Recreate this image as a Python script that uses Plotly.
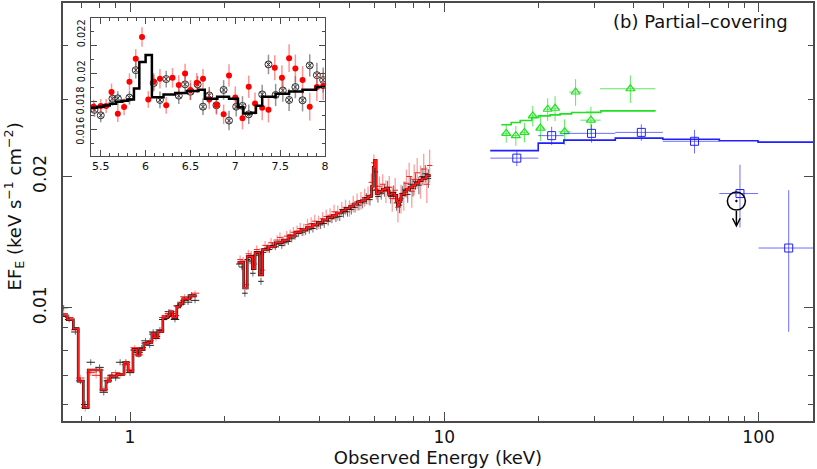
import plotly.graph_objects as go
import math

# ---- soft band (0.6-1.6 keV) ----
soft_edges = [0.609, 0.631, 0.660, 0.684, 0.710, 0.736, 0.809, 0.839, 0.864, 0.909, 0.957, 0.986,
              1.022, 1.052, 1.076, 1.107, 1.140, 1.174, 1.200, 1.227, 1.272, 1.320, 1.339, 1.368,
              1.409, 1.440, 1.472, 1.549, 1.630]
soft_model = [0.00959, 0.00939, 0.00896, 0.00679, 0.00590, 0.00720, 0.00648, 0.00679, 0.00697,
              0.00704, 0.00750, 0.00715, 0.00803, 0.00778, 0.00803, 0.00828, 0.00833, 0.00873,
              0.00855, 0.00882, 0.00949, 0.00959, 0.00979, 0.00949, 0.01005, 0.01021, 0.01048, 0.01065]
soft_e = [0.615, 0.64, 0.67, 0.695, 0.72, 0.75, 0.78, 0.80, 0.825, 0.85, 0.875, 0.90, 0.93, 0.97,
          1.00, 1.035, 1.065, 1.09, 1.12, 1.155, 1.185, 1.21, 1.245, 1.275, 1.30, 1.33, 1.35, 1.39,
          1.42, 1.455, 1.49, 1.53, 1.57, 1.61]
soft_black = [0.0100, 0.0094, 0.0088, 0.0068, 0.0060, 0.0075, 0.0072, 0.0073, 0.0064, 0.0068, 0.0070,
              0.0069, 0.0075, 0.0075, 0.0071, 0.0080, 0.0079, 0.0081, 0.0084, 0.0082, 0.0088, 0.0086,
              0.0089, 0.0094, 0.0095, 0.0098, 0.0097, 0.0094, 0.0101, 0.0102, 0.0104, 0.0103, 0.0107, 0.0104]
soft_red = [0.0097, 0.0095, 0.0089, 0.0069, 0.0059, 0.0071, 0.0070, 0.0072, 0.0065, 0.0069, 0.0070,
            0.0071, 0.0070, 0.0074, 0.0072, 0.0081, 0.0078, 0.0080, 0.0083, 0.0084, 0.0087, 0.0085,
            0.0088, 0.0095, 0.0096, 0.0097, 0.0098, 0.0096, 0.0101, 0.0103, 0.0106, 0.0105, 0.0106, 0.0108]
soft_err = [0.00015, 0.00014, 0.00013, 0.00012, 0.00012, 0.00012, 0.00012, 0.00012, 0.00011, 0.00011,
            0.00011, 0.00011, 0.00012, 0.00012, 0.00012, 0.00012, 0.00012, 0.00012, 0.00012, 0.00012,
            0.00013, 0.00013, 0.00013, 0.00014, 0.00014, 0.00014, 0.00014, 0.00014, 0.00015, 0.00015,
            0.00015, 0.00015, 0.00016, 0.00016]

# ---- hard band (2.2-9 keV) ----
hard_edges = [2.20, 2.30, 2.36, 2.45, 2.50, 2.58, 2.64, 2.75, 2.90, 3.05, 3.20, 3.35, 3.50, 3.65, 3.80,
              3.95, 4.10, 4.25, 4.40, 4.55, 4.70, 4.85, 5.00, 5.15, 5.30, 5.45, 5.60, 5.72, 5.87, 5.94,
              6.00, 6.07, 6.20, 6.35, 6.50, 6.65, 6.80, 6.95, 7.05, 7.10, 7.20, 7.28, 7.45, 7.60, 7.75,
              7.90, 8.10, 8.30, 8.50, 8.75, 9.05]
hard_model = [0.0127, 0.0111, 0.0131, 0.0123, 0.0134, 0.0119, 0.0136, 0.0138, 0.0141, 0.0143,
              0.0146, 0.0149, 0.0151, 0.0153, 0.0155, 0.0157, 0.0159, 0.0161, 0.0163, 0.0165,
              0.0167, 0.0169, 0.0171, 0.0173, 0.0175, 0.0176, 0.0178, 0.0180, 0.0190, 0.0210,
              0.0218, 0.0183, 0.0185, 0.0187, 0.0188, 0.0182, 0.0183, 0.0181, 0.0176, 0.0172,
              0.0175, 0.0182, 0.0185, 0.0187, 0.0189, 0.0191, 0.0193, 0.0196, 0.0198, 0.0201]
hard_e_black = [2.22, 2.27, 2.32, 2.36, 2.41, 2.46, 2.51, 2.56, 2.61, 2.66, 2.72, 2.78, 2.84, 2.90, 2.97,
                3.04, 3.11, 3.19, 3.27, 3.35, 3.44, 3.53, 3.62, 3.72, 3.82, 3.93, 4.04, 4.15, 4.27, 4.39,
                4.52, 4.65, 4.78, 4.92, 5.06, 5.20, 5.35, 5.50, 5.65, 5.80, 5.92, 6.03, 6.15, 6.30, 6.45,
                6.60, 6.75, 6.90, 7.05, 7.20, 7.35, 7.50, 7.65, 7.80, 7.95, 8.10, 8.30, 8.50, 8.70, 8.90]
hard_black = [0.0126, 0.0124, 0.0108, 0.0129, 0.0128, 0.0120, 0.0132, 0.0133, 0.0115, 0.0134, 0.0137,
              0.0136, 0.0139, 0.0138, 0.0140, 0.0139, 0.0141, 0.0142, 0.0144, 0.0146, 0.0148, 0.0149,
              0.0150, 0.0151, 0.0152, 0.0154, 0.0155, 0.0156, 0.0158, 0.0160, 0.0161, 0.0162, 0.0165,
              0.0166, 0.0168, 0.0170, 0.0172, 0.0174, 0.0178, 0.0177, 0.0186, 0.0205, 0.0180, 0.0183,
              0.0186, 0.0189, 0.0180, 0.0184, 0.0174, 0.0172, 0.0183, 0.0187, 0.0182, 0.0192, 0.0188,
              0.0195, 0.0191, 0.0200, 0.0203, 0.0198]
hard_err_black = [0.00020, 0.00020, 0.00020, 0.00021, 0.00021, 0.00021, 0.00022, 0.00022, 0.00022, 0.00023,
                  0.00023, 0.00023, 0.00024, 0.00024, 0.00025, 0.00025, 0.00026, 0.00026, 0.00027, 0.00027,
                  0.00028, 0.00029, 0.00030, 0.00031, 0.00032, 0.00033, 0.00034, 0.00035, 0.00036, 0.00037,
                  0.00038, 0.00039, 0.00040, 0.00042, 0.00044, 0.00046, 0.00048, 0.00050, 0.00052, 0.00054,
                  0.00056, 0.00058, 0.00058, 0.00060, 0.00062, 0.00064, 0.00066, 0.00068, 0.00070, 0.00072,
                  0.00074, 0.00076, 0.00078, 0.00080, 0.00082, 0.00085, 0.00088, 0.00090, 0.00094, 0.00098]
hard_e_red = [2.24, 2.29, 2.34, 2.38, 2.43, 2.48, 2.53, 2.59, 2.63, 2.69, 2.75, 2.81, 2.87, 2.94, 3.00,
              3.07, 3.15, 3.23, 3.31, 3.40, 3.48, 3.57, 3.67, 3.77, 3.87, 3.98, 4.10, 4.21, 4.33, 4.46,
              4.58, 4.72, 4.85, 4.99, 5.13, 5.28, 5.43, 5.58, 5.72, 5.86, 5.97, 6.08, 6.22, 6.37, 6.52,
              6.68, 6.83, 6.98, 7.12, 7.28, 7.43, 7.58, 7.73, 7.88, 8.02, 8.20, 8.40, 8.60, 8.80, 8.98]
hard_red = [0.0129, 0.0128, 0.0113, 0.0133, 0.0132, 0.0126, 0.0136, 0.0134, 0.0122, 0.0139, 0.0137,
            0.0141, 0.0140, 0.0143, 0.0145, 0.0142, 0.0146, 0.0147, 0.0149, 0.0150, 0.0152, 0.0151,
            0.0155, 0.0156, 0.0158, 0.0157, 0.0160, 0.0162, 0.0163, 0.0166, 0.0165, 0.0168, 0.0170,
            0.0169, 0.0173, 0.0175, 0.0176, 0.0179, 0.0181, 0.0194, 0.0215, 0.0187, 0.0190, 0.0192,
            0.0185, 0.0189, 0.0178, 0.0186, 0.0170, 0.0178, 0.0181, 0.0193, 0.0200, 0.0185, 0.0197,
            0.0204, 0.0195, 0.0208, 0.0192, 0.0212]
hard_err_red = [0.00028, 0.00028, 0.00029, 0.00029, 0.00030, 0.00030, 0.00031, 0.00031, 0.00032, 0.00033,
                0.00034, 0.00035, 0.00036, 0.00037, 0.00038, 0.00039, 0.00040, 0.00041, 0.00042, 0.00044,
                0.00046, 0.00048, 0.00050, 0.00052, 0.00054, 0.00056, 0.00058, 0.00060, 0.00062, 0.00064,
                0.00066, 0.00068, 0.00070, 0.00073, 0.00076, 0.00079, 0.00082, 0.00085, 0.00088, 0.00092,
                0.00096, 0.00100, 0.00100, 0.00105, 0.00110, 0.00115, 0.00120, 0.00125, 0.00130, 0.00135,
                0.00140, 0.00145, 0.00150, 0.00155, 0.00160, 0.00165, 0.00170, 0.00175, 0.00180, 0.00185]

# ---- hard X-ray (green triangles, blue squares) ----
green_e = [15.74, 16.89, 17.99, 19.12, 20.22, 21.33, 22.51, 24.15, 26.17, 29.28, 39.09]
green_f = [0.02512, 0.02482, 0.02525, 0.02755, 0.02583, 0.02853, 0.02868, 0.02534, 0.03125, 0.02693, 0.03179]
green_ey = [0.0012, 0.0013, 0.0013, 0.0015, 0.0017, 0.0017, 0.0019, 0.0017, 0.0022, 0.0020, 0.0023]
green_ex = [0.45, 0.50, 0.55, 0.55, 0.60, 0.60, 0.65, 1.10, 1.20, 2.15, 7.80]
green_edges = [15.18, 16.33, 17.44, 18.98, 19.93, 21.71, 23.35, 25.42, 28.36, 31.50, 47.05]
green_model = [0.02628, 0.02660, 0.02688, 0.02731, 0.02755, 0.02770, 0.02784, 0.02804, 0.02806, 0.02829]

blue_e = [17.01, 21.96, 29.41, 42.36, 62.55, 87.26, 124.7]
blue_f = [0.02204, 0.02482, 0.02512, 0.02525, 0.02409, 0.01828, 0.01371]
blue_ey = [0.0009, 0.0012, 0.0012, 0.0011, 0.0015, 0.0030, 0.0049]
blue_ex_lo = [3.0, 2.06, 5.4, 7.36, 12.95, 12.26, 24.7]
blue_ex_hi = [2.9, 2.04, 5.6, 7.24, 12.45, 12.34, 70.0]
blue_edges = [14.0, 19.9, 24.0, 35.0, 49.6, 75.0, 99.6, 195.0]
blue_model = [0.02293, 0.02386, 0.02424, 0.02449, 0.02436, 0.02416, 0.02398]

# upper limit
ul_e = [85.0]
ul_f = [0.01757]
ul_tip = 0.01527

# ---- inset (5.4-8 keV) ----
ins_edges = [5.39, 5.46, 5.53, 5.60, 5.67, 5.74, 5.80, 5.87, 5.93, 6.00, 6.07, 6.20, 6.33, 6.46,
             6.59, 6.66, 6.80, 6.93, 7.03, 7.09, 7.18, 7.23, 7.30, 7.45, 7.60, 7.75, 7.90, 8.00]
ins_model = [0.01757, 0.01764, 0.01772, 0.01785, 0.01800, 0.01806, 0.01815, 0.01895, 0.02085,
             0.02135, 0.01832, 0.01852, 0.01862, 0.01876, 0.01885, 0.01820, 0.01835, 0.01820,
             0.01760, 0.01715, 0.01720, 0.01770, 0.01835, 0.01856, 0.01872, 0.01885, 0.01905]
ins_red_e = [5.42, 5.50, 5.56, 5.62, 5.69, 5.76, 5.82, 5.89, 5.96, 6.03, 6.09, 6.16, 6.23, 6.30, 6.37,
             6.44, 6.50, 6.57, 6.64, 6.71, 6.79, 6.87, 6.93, 7.00, 7.08, 7.15, 7.22, 7.30, 7.37, 7.44,
             7.52, 7.60, 7.67, 7.75, 7.83, 7.91, 7.98]
ins_red_f = [0.01764, 0.01769, 0.01769, 0.01870, 0.01714, 0.01762, 0.01943, 0.02107, 0.02264, 0.01816,
             0.01945, 0.01964, 0.01774, 0.01971, 0.01919, 0.02002, 0.01884, 0.01936, 0.01964, 0.01816,
             0.01776, 0.01709, 0.01988, 0.01829, 0.01681, 0.01907, 0.01786, 0.01757, 0.01741, 0.02043,
             0.01971, 0.02112, 0.02038, 0.01955, 0.01764, 0.01905, 0.01912]
ins_red_err = [0.0005, 0.0005, 0.0005, 0.0006, 0.0006, 0.0006, 0.0006, 0.0007, 0.0007, 0.0006, 0.0006,
               0.0007, 0.0006, 0.0007, 0.0007, 0.0007, 0.0007, 0.0007, 0.0007, 0.0007, 0.0007, 0.0007,
               0.0008, 0.0008, 0.0008, 0.0008, 0.0008, 0.0009, 0.0009, 0.0009, 0.0009, 0.0010, 0.0010,
               0.0010, 0.0010, 0.0010, 0.0010]
ins_blk_e = [5.43, 5.50, 5.63, 5.69, 5.82, 5.89, 6.09, 6.16, 6.23, 6.37, 6.44, 6.50, 6.58, 6.64, 6.71,
             6.79, 6.87, 6.93, 7.01, 7.08, 7.15, 7.30, 7.37, 7.45, 7.53, 7.60, 7.67, 7.75, 7.83, 7.91, 7.98]
ins_blk_f = [0.01741, 0.01702, 0.01821, 0.01824, 0.01829, 0.02026, 0.01933, 0.01812, 0.01962, 0.01843,
             0.01924, 0.01871, 0.01924, 0.01764, 0.01845, 0.01774, 0.01884, 0.01664, 0.01764, 0.01769,
             0.01709, 0.01852, 0.02067, 0.01848, 0.01880, 0.01812, 0.01905, 0.01810, 0.02060, 0.01990,
             0.01955]
ins_blk_err = [0.0005, 0.0005, 0.0005, 0.0005, 0.0005, 0.0006, 0.0006, 0.0006, 0.0006, 0.0006, 0.0006,
               0.0006, 0.0006, 0.0006, 0.0006, 0.0006, 0.0007, 0.0007, 0.0007, 0.0007, 0.0007, 0.0007,
               0.0007, 0.0008, 0.0008, 0.0008, 0.0008, 0.0008, 0.0008, 0.0009, 0.0009]

# tick values
x_major = [1, 10, 100]
x_minor = [0.7, 0.8, 0.9, 2, 3, 4, 5, 6, 7, 8, 9, 20, 30, 40, 50, 60, 70, 80, 90]
y_major = [0.01, 0.02]
y_minor = [0.006, 0.007, 0.008, 0.009, 0.03, 0.04, 0.05]
ins_x_ticks = [5.5, 6, 6.5, 7, 7.5, 8]
ins_y_ticks = [0.016, 0.018, 0.02, 0.022]
ins_y_labels = ["0.016", "0.018", "0.02", "0.022"]

FONT = "DejaVu Sans, Verdana, sans-serif"
AXIS = "#4a4a4a"
RED = "#ff1a1a"
GREEN = "#22e022"
BLUE = "#2020ff"

fig = go.Figure()


def crosses(x, y, ey, color, ecolor, size=5, thick=1.0, xa="x", ya="y"):
    return go.Scatter(
        x=x, y=y, mode="markers", xaxis=xa, yaxis=ya, showlegend=False, hoverinfo="skip",
        marker=dict(symbol="line-ew", size=size, line=dict(color=color, width=1)),
        error_y=dict(type="data", array=ey, color=ecolor, thickness=thick, width=0),
    )


def steps(edges, vals, color, width, xa="x", ya="y"):
    return go.Scatter(
        x=edges, y=vals + [vals[-1]], mode="lines", line=dict(color=color, width=width, shape="hv"),
        xaxis=xa, yaxis=ya, showlegend=False, hoverinfo="skip",
    )


# main spectra (black / red)
fig.add_trace(crosses(soft_e, soft_black, soft_err, "#222", "rgba(40,40,40,0.7)", size=6))
fig.add_trace(crosses(soft_e, soft_red, soft_err, RED, "rgba(255,40,40,0.5)", size=6))
fig.add_trace(crosses(hard_e_black, hard_black, hard_err_black, "#222", "rgba(40,40,40,0.7)", size=4))
fig.add_trace(crosses(hard_e_red, hard_red, hard_err_red, RED, "rgba(255,40,40,0.45)", size=4, thick=1.3))
for ed, mv in [(soft_edges, soft_model), (hard_edges, hard_model)]:
    fig.add_trace(steps(ed, mv, "#000", 2.6))
    fig.add_trace(steps(ed, mv, RED, 1.8))

# green triangles
fig.add_trace(go.Scatter(
    x=green_e, y=green_f, mode="markers", showlegend=False, hoverinfo="skip",
    marker=dict(symbol="triangle-up-open", size=8, color=GREEN, line=dict(width=1.2)),
    error_y=dict(type="data", array=green_ey, color="rgba(40,225,40,0.75)", thickness=1, width=0),
    error_x=dict(type="data", array=green_ex, color="rgba(40,225,40,0.75)", thickness=1, width=0),
))
fig.add_trace(steps(green_edges, green_model, GREEN, 1.6))

# blue squares
fig.add_trace(go.Scatter(
    x=blue_e, y=blue_f, mode="markers", showlegend=False, hoverinfo="skip",
    marker=dict(symbol="square-open", size=8, color=BLUE, line=dict(width=1)),
    error_y=dict(type="data", array=blue_ey, color="rgba(60,60,255,0.75)", thickness=1, width=0),
    error_x=dict(type="data", array=blue_ex_hi, arrayminus=blue_ex_lo, color="rgba(60,60,255,0.75)",
                 thickness=1, width=0),
))
fig.add_trace(steps(blue_edges, blue_model, BLUE, 1.6))

# upper limit marker
fig.add_trace(go.Scatter(
    x=ul_e, y=ul_f, mode="markers", showlegend=False, hoverinfo="skip",
    marker=dict(symbol="circle-open-dot", size=18, color="#000", line=dict(width=1.5)),
))
fig.add_annotation(x=math.log10(ul_e[0]), y=math.log10(ul_tip), xref="x", yref="y", ax=0, ay=-18,
                   showarrow=True, arrowhead=5, arrowsize=1, arrowwidth=1.5, arrowcolor="#000", text="")

# inset
fig.add_trace(go.Scatter(
    x=ins_blk_e, y=ins_blk_f, mode="markers", xaxis="x2", yaxis="y2", showlegend=False, hoverinfo="skip",
    marker=dict(symbol="circle-x-open", size=7, color="#333", line=dict(width=1)),
    error_y=dict(type="data", array=ins_blk_err, color="rgba(60,60,60,0.55)", thickness=1.5, width=0),
))
fig.add_trace(go.Scatter(
    x=ins_red_e, y=ins_red_f, mode="markers", xaxis="x2", yaxis="y2", showlegend=False, hoverinfo="skip",
    marker=dict(symbol="circle", size=6, color="#ff0000"),
    error_y=dict(type="data", array=ins_red_err, color="rgba(255,60,60,0.55)", thickness=1.5, width=0),
))
fig.add_trace(steps(ins_edges, ins_model, "#000", 2.5, xa="x2", ya="y2"))

axis_common = dict(showline=True, linecolor=AXIS, linewidth=1.5, mirror="allticks", ticks="inside",
                   tickcolor=AXIS, tickwidth=1, showgrid=False, zeroline=False)

fig.update_layout(
    width=817, height=469,
    margin=dict(l=63, r=1, t=1, b=48),
    paper_bgcolor="white", plot_bgcolor="white",
    font=dict(family=FONT, color="#111", size=17),
    showlegend=False,
    xaxis=dict(type="log", range=[math.log10(0.612), math.log10(149)],
               tickvals=x_major, ticktext=[str(v) for v in x_major], ticklen=9,
               minor=dict(tickvals=x_minor, ticklen=5, ticks="inside", tickcolor=AXIS),
               title=dict(text="Observed Energy (keV)", font=dict(size=18), standoff=4),
               tickfont=dict(size=17), **axis_common),
    yaxis=dict(type="log", range=[math.log10(0.0055), math.log10(0.05)],
               tickvals=y_major, ticktext=["0.01", "0.02"], ticklen=9, tickangle=-90,
               ticklabelstandoff=8,
               minor=dict(tickvals=y_minor, ticklen=5, ticks="inside", tickcolor=AXIS),
               tickfont=dict(size=17), **axis_common),
    xaxis2=dict(domain=[0.0372, 0.3493], anchor="y2", range=[5.39, 8.0],
                tickvals=ins_x_ticks, ticktext=["5.5", "6", "6.5", "7", "7.5", "8"], ticklen=6,
                minor=dict(dtick=0.1, ticklen=3, ticks="inside", tickcolor=AXIS),
                tickfont=dict(size=11), **{**axis_common, "linewidth": 1.2}),
    yaxis2=dict(domain=[0.634, 0.964], anchor="x2", range=[0.0141, 0.0240],
                tickvals=ins_y_ticks, showticklabels=False, ticklen=6,
                minor=dict(dtick=0.001, ticklen=3, ticks="inside", tickcolor=AXIS),
                **{**axis_common, "linewidth": 1.2}),
)

# inset y labels, nudged apart like the original so they do not collide
ins_label_pos = [0.01590, 0.01808, 0.02018, 0.02290]
for lab, pos in zip(ins_y_labels, ins_label_pos):
    fig.add_annotation(xref="paper", yref="y2", x=0.0239, y=pos, text=lab, textangle=-90,
                       showarrow=False, font=dict(size=9.8), xanchor="center", yanchor="middle")

fig.add_annotation(xref="paper", yref="paper", x=-0.065, y=0.514, textangle=-90, showarrow=False,
                   text="EF<sub>E</sub> (keV s<sup>\u22121</sup> cm<sup>\u22122</sup>)",
                   font=dict(size=18), xanchor="center", yanchor="middle")
fig.add_annotation(xref="paper", yref="paper", x=0.9695, y=0.955, showarrow=False,
                   text="(b) Partial\u2013covering", font=dict(size=18), xanchor="right", yanchor="middle")

fig.write_html("out.html", config={"displayModeBar": False},
               post_script="document.body.style.margin='0';")
